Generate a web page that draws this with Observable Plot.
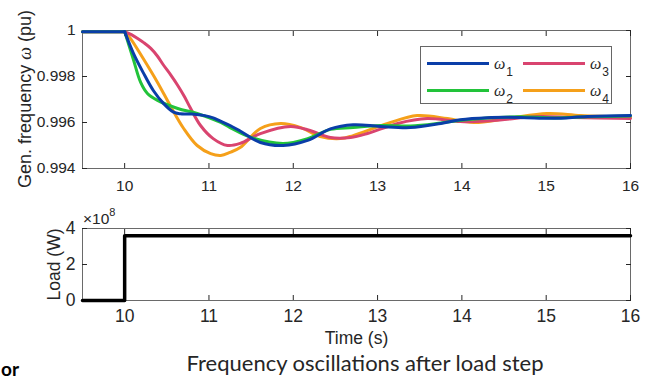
<!DOCTYPE html>
<html>
<head>
<meta charset="utf-8">
<script src="https://cdn.jsdelivr.net/npm/d3@7"></script>
<script src="https://cdn.jsdelivr.net/npm/@observablehq/plot@0.6"></script>
<style>
  html, body { margin: 0; padding: 0; background: #fff; }
  #wrap { position: relative; width: 652px; height: 381px; overflow: hidden;
          font-family: "Liberation Sans", Arial, sans-serif; color: #262626; }
  #top, #bottom { position: absolute; left: 0; }
  #top { top: 0; }
  #bottom { top: 200px; }
  .abs { position: absolute; white-space: nowrap; }
  #ylabel { left: 25px; top: 99px; transform: translate(-50%, -50%) rotate(-90deg);
            font-size: 18px; line-height: 1; }
  #ylabel i { font-family: "Liberation Serif", serif; font-style: italic; }
  #expo { left: 83px; top: 209px; font-size: 15.5px; line-height: 1; }
  #expo sup { font-size: 11px; position: relative; top: -2px; }
  #legend { left: 420px; top: 46px; width: 192px; height: 58px; border: 1px solid #666;
            background: #fff; box-sizing: border-box; }
  .sw { position: absolute; height: 3px; width: 62px; }
  .lg { position: absolute; font-family: "Liberation Serif", serif; font-style: italic;
        font-size: 16px; line-height: 1; }
  .lg sub { font-family: "Liberation Sans", Arial, sans-serif; font-style: normal;
            font-size: 12px; position: relative; top: 3px; margin-left: 1px; }
  #caption { left: 365px; top: 352px; transform: translateX(-50%);
             font-family: Lato, "Open Sans", sans-serif; font-size: 22px; color: #262626; line-height: 1; }
  #frag { left: 1px; top: 359px; font-family: Lato, sans-serif; font-weight: bold;
          font-size: 19px; color: #000; line-height: 1; }
</style>
</head>
<body>
<div id="wrap">
  <div id="top"></div>
  <div id="bottom"></div>
</div>
<script>
// ---------- data ----------
const seriesNames = ["ω1", "ω2", "ω3", "ω4"];
const seriesColors = ["#0a3ea8", "#22c33a", "#d9446f", "#f5a01a"];

const time1 = [9.5, 10.0, 10.1, 10.22, 10.34, 10.46, 10.58, 10.66, 10.8, 10.95, 11.05, 11.13, 11.25, 11.37, 11.61, 11.88, 12.17, 12.44, 12.71, 13.03, 13.39, 13.75, 13.98, 14.3, 14.69, 15.08, 15.49, 16.0];
const omega1 = [0.99995, 0.99995, 0.99904, 0.99817, 0.99739, 0.99683, 0.99645, 0.99638, 0.99637, 0.99630, 0.99620, 0.99607, 0.99587, 0.99563, 0.99513, 0.99500, 0.99522, 0.99572, 0.99590, 0.99583, 0.99578, 0.99596, 0.99612, 0.99621, 0.99622, 0.99618, 0.99626, 0.99630];

const time2 = [9.5, 10.0, 10.1, 10.19, 10.27, 10.39, 10.63, 10.86, 11.14, 11.25, 11.5, 11.88, 12.17, 12.44, 12.71, 13.03, 13.39, 13.75, 14.0, 14.3, 14.7, 15.1, 15.5, 16.0];
const omega2 = [0.99995, 0.99995, 0.99878, 0.99774, 0.99726, 0.99696, 0.99661, 0.99639, 0.99600, 0.99578, 0.99535, 0.99509, 0.99530, 0.99570, 0.99578, 0.99587, 0.99585, 0.99598, 0.99610, 0.99620, 0.99625, 0.99620, 0.99625, 0.99628];

const time3 = [9.5, 10.0, 10.08, 10.15, 10.23, 10.31, 10.39, 10.46, 10.55, 10.63, 10.71, 10.78, 10.9, 11.05, 11.22, 11.37, 11.61, 11.97, 12.2, 12.44, 12.68, 12.88, 13.24, 13.59, 13.98, 14.37, 14.9, 15.32, 16.0];
const omega3 = [0.99995, 0.99995, 0.99982, 0.99966, 0.99946, 0.99922, 0.99888, 0.99850, 0.99805, 0.99761, 0.99712, 0.99663, 0.99587, 0.99530, 0.99500, 0.99509, 0.99552, 0.99583, 0.99565, 0.99535, 0.99535, 0.99552, 0.99596, 0.99617, 0.99604, 0.99609, 0.99626, 0.99622, 0.99617];

const time4 = [9.5, 10.0, 10.07, 10.22, 10.39, 10.54, 10.7, 10.86, 11.02, 11.14, 11.25, 11.37, 11.61, 11.85, 12.09, 12.32, 12.56, 12.71, 13.12, 13.47, 13.83, 14.14, 14.54, 15.01, 15.41, 16.0];
const omega4 = [0.99995, 0.99995, 0.99965, 0.99878, 0.99774, 0.99674, 0.99574, 0.99500, 0.99465, 0.99457, 0.99470, 0.99491, 0.99574, 0.99596, 0.99578, 0.99539, 0.99530, 0.99543, 0.99596, 0.99630, 0.99617, 0.99600, 0.99617, 0.99639, 0.99630, 0.99622];

const stepTime = 10.0;
const loadTime = [9.5, 10.0, 16.0];
const loadWatts = [0, 3.6e8, 3.6e8];

const xTicks = [10, 11, 12, 13, 14, 15, 16];
const yTicksFreq = [0.994, 0.996, 0.998, 1];
const yTicksLoad = [0, 2e8, 4e8];

// ---------- build ----------
const times = [time1, time2, time3, time4];
const omegas = [omega1, omega2, omega3, omega4];
// split each series at the load step so the corner at t = 10 s stays sharp
const toRows = (ts, vs) => {
  const rows = [];
  ts.forEach((t, i) => {
    if (t <= stepTime) rows.push({t, v: vs[i], seg: "pre"});
    if (t >= stepTime) rows.push({t, v: vs[i], seg: "post"});
  });
  return rows;
};

const axisStroke = "#262626";
const frameStroke = "#6a6a6a";
const fontFam = '"Liberation Sans", Arial, sans-serif';
const drawOrder = [3, 2, 1, 0];

const topPlot = Plot.plot({
  width: 652, height: 200,
  marginLeft: 82, marginRight: 22, marginTop: 30, marginBottom: 32,
  x: {domain: [9.5, 16], axis: null},
  y: {domain: [0.994, 1], axis: null},
  style: {fontFamily: fontFam, fontSize: "15.5px", color: axisStroke, background: "transparent", overflow: "visible"},
  marks: [
    Plot.frame({stroke: frameStroke, strokeWidth: 1}),
    Plot.axisX({ticks: xTicks, tickSize: -5, fill: "none", label: null, stroke: axisStroke}),
    Plot.axisX({ticks: xTicks, anchor: "top", tickSize: -5, fill: "none", label: null, stroke: axisStroke}),
    Plot.axisY({ticks: yTicksFreq, tickSize: -5, fill: "none", label: null, stroke: axisStroke}),
    Plot.axisY({ticks: yTicksFreq, anchor: "right", tickSize: -5, fill: "none", label: null, stroke: axisStroke}),
    Plot.axisX({ticks: xTicks, tickSize: 0, tickPadding: 11, stroke: "none", label: null, tickFormat: d => String(d)}),
    Plot.axisY({ticks: yTicksFreq, tickSize: 0, tickPadding: 7, stroke: "none", label: null,
                tickFormat: d => d === 1 ? "1" : d3.format(".3f")(d)}),
    ...drawOrder.map(k => Plot.line(toRows(times[k], omegas[k]), {
      x: "t", y: "v", z: "seg", stroke: seriesColors[k], strokeWidth: 3, curve: "catmull-rom"
    }))
  ]
});
document.getElementById("top").appendChild(topPlot);

const bottomPlot = Plot.plot({
  width: 652, height: 181,
  marginLeft: 82, marginRight: 22, marginTop: 28, marginBottom: 81,
  x: {domain: [9.5, 16], axis: null},
  y: {domain: [0, 4e8], axis: null},
  style: {fontFamily: fontFam, fontSize: "15.5px", color: axisStroke, background: "transparent", overflow: "visible"},
  marks: [
    Plot.frame({stroke: frameStroke, strokeWidth: 1}),
    Plot.axisX({ticks: xTicks, tickSize: -5, fill: "none", label: null, stroke: axisStroke}),
    Plot.axisX({ticks: xTicks, anchor: "top", tickSize: -5, fill: "none", label: null, stroke: axisStroke}),
    Plot.axisY({ticks: yTicksLoad, tickSize: -5, fill: "none", label: null, stroke: axisStroke}),
    Plot.axisY({ticks: yTicksLoad, anchor: "right", tickSize: -5, fill: "none", label: null, stroke: axisStroke}),
    Plot.axisX({ticks: xTicks, tickSize: 0, tickPadding: 9, stroke: "none", tickFormat: d => String(d),
                label: "Time (s)", labelAnchor: "center", labelArrow: "none", labelOffset: 43, fontSize: 17.5}),
    Plot.axisY({ticks: yTicksLoad, tickSize: 0, tickPadding: 7, stroke: "none",
                tickFormat: d => String(d / 1e8),
                label: "Load (W)", labelAnchor: "center", labelArrow: "none", labelOffset: 35, fontSize: 17.5}),
    Plot.line(loadTime.map((t, i) => ({t, v: loadWatts[i]})), {x: "t", y: "v", stroke: "#000", strokeWidth: 3.5, curve: "step-after"})
  ]
});
document.getElementById("bottom").appendChild(bottomPlot);

// ---------- HTML text overlays ----------
const wrap = document.getElementById("wrap");
function addDiv(id, cls, html) {
  const d = document.createElement("div");
  if (id) d.id = id;
  d.className = cls;
  d.innerHTML = html;
  wrap.appendChild(d);
  return d;
}
addDiv("ylabel", "abs", 'Gen. frequency <i>ω</i> (pu)');
addDiv("expo", "abs", '×10<sup>8</sup>');
addDiv("caption", "abs", 'Frequency oscillations after load step');
addDiv("frag", "abs", 'or');

const legend = addDiv("legend", "abs", "");
const legendSlots = [[6, 15], [6, 42], [102, 15], [102, 42]];
seriesNames.forEach((name, k) => {
  const [lx, ly] = legendSlots[k];
  const sw = document.createElement("div");
  sw.className = "sw";
  sw.style.left = lx + "px";
  sw.style.top = ly + "px";
  sw.style.background = seriesColors[k];
  legend.appendChild(sw);
  const lb = document.createElement("div");
  lb.className = "lg";
  lb.style.left = (lx + 67) + "px";
  lb.style.top = (ly - 6) + "px";
  lb.innerHTML = name[0] + "<sub>" + name.slice(1) + "</sub>";
  legend.appendChild(lb);
});
</script>
</body>
</html>
